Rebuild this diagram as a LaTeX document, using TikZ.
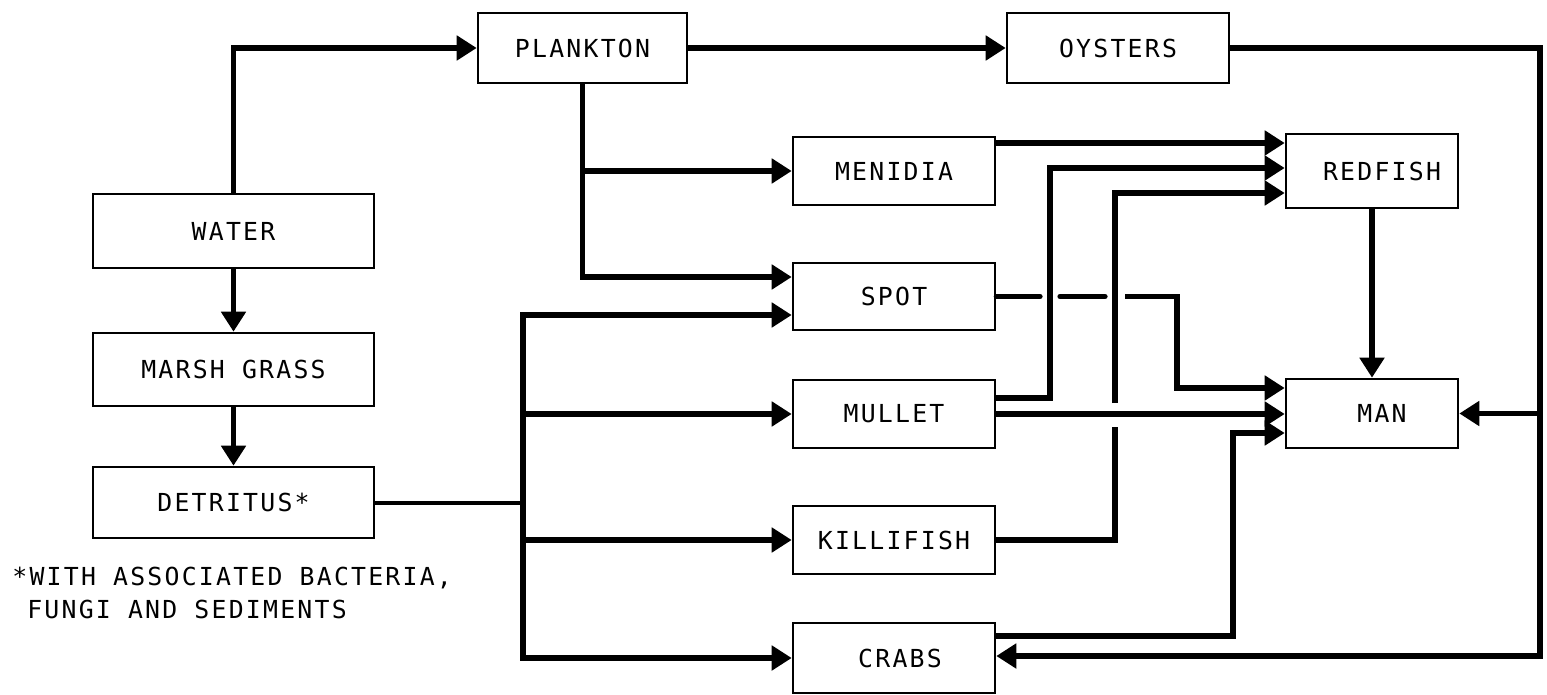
\documentclass[tikz,border=0pt]{standalone}
\usepackage{fontspec}
\newfontfamily\lbl[LetterSpace=9]{DejaVu Sans Mono}
\usetikzlibrary{arrows.meta}
\begin{document}
\begin{tikzpicture}[x=0.5pt,y=-0.5pt,
  box/.style={draw, line width=1.3pt, rectangle, inner sep=0pt,
    font=\lbl\fontsize{12.4pt}{13pt}\selectfont},
  lb/.style={inner sep=0pt, font=\lbl\fontsize{12.4pt}{13pt}\selectfont},
  conn/.style={line width=2.6pt, -{Triangle[length=10pt,width=12pt]}},
  wire/.style={line width=2.6pt},
  thinwire/.style={line width=2pt},
]
\useasboundingbox (0,0) rectangle (1547,695);

% boxes
\node[box, minimum width=140.5pt, minimum height=37pt] (water) at (233.5,231) {WATER};
\node[box, minimum width=140.5pt, minimum height=36.5pt] (marsh) at (233.5,369.5) {MARSH GRASS};
\node[box, minimum width=140.5pt, minimum height=35.5pt] (detritus) at (233.5,502.5) {DETRITUS*};
\node[box, minimum width=104.5pt, minimum height=35pt] (plankton) at (582.5,48) {PLANKTON};
\node[box, minimum width=111pt, minimum height=35pt] (oysters) at (1118,48) {OYSTERS};
\node[box, minimum width=101pt, minimum height=34pt] (menidia) at (894,171) {MENIDIA};
\node[box, minimum width=101pt, minimum height=33.5pt] (spot) at (894,296.5) {SPOT};
\node[box, minimum width=101pt, minimum height=34pt] (mullet) at (894,414) {MULLET};
\node[box, minimum width=101pt, minimum height=34pt] (killifish) at (894,540) {KILLIFISH};
\node[box, minimum width=101pt, minimum height=35pt] (crabs) at (894,658) {\hspace{6pt}CRABS};
\node[box, minimum width=86pt, minimum height=37pt] (redfish) at (1372,171) {\hspace{10pt}REDFISH};
\node[box, minimum width=86pt, minimum height=34.5pt] (man) at (1372,413.5) {\hspace{10pt}MAN};

% footnote
\node[lb, anchor=west] (note1) at (12,578) {*WITH ASSOCIATED BACTERIA,};
\node[lb, anchor=west] (note2) at (12,609) {\hphantom{*}FUNGI AND SEDIMENTS};

% left column
\draw[conn] (water.north) |- (plankton.west);
\draw[conn] (water.south) -- (marsh.north);
\draw[conn] (marsh.south) -- (detritus.north);
\draw[conn] (plankton.east) -- (oysters.west);

% plankton branch
\draw[conn] (plankton.south) |- (spot.west |- 0,277);
\draw[conn] (plankton.south |- menidia.west) -- (menidia.west);

% detritus branch
\coordinate (dj) at (523,502.5);
\draw[thinwire] (detritus.east) -- (dj);
\draw[conn] (dj) |- (spot.west |- 0,315);
\draw[conn] (dj) |- (crabs.west);
\draw[conn] (dj |- mullet.west) -- (mullet.west);
\draw[conn] (dj |- killifish.west) -- (killifish.west);

% to redfish
\draw[conn] (menidia.east |- 0,143) -- (redfish.west |- 0,143);
\coordinate (mv) at (1050,168);
\draw[conn] (mullet.east |- 0,398) -| (mv) -- (redfish.west |- mv);
\coordinate (kv) at (1115,193);
\draw[wire] (killifish.east) -| (1115,427);
\draw[conn] (1115,403) -- (kv) -- (redfish.west |- kv);

% to man
\draw[wire, line cap=round] (spot.east) -- (1040,296.5);
\draw[wire, line cap=round] (1060,296.5) -- (1105,296.5);
\coordinate (sv) at (1177,388);
\draw[conn] (1125,296.5) -| (sv) -- (man.west |- sv);
\draw[conn] (mullet.east) -- (man.west |- mullet.east);
\coordinate (cv) at (1233,433);
\draw[conn] (crabs.east |- 0,636) -| (cv) -- (man.west |- cv);
\draw[conn] (redfish.south) -- (man.north);

% oysters loop
\coordinate (rt) at (1540,48);
\coordinate (rb) at (1540,656);
\draw[conn] (oysters.east) -- (rt) -- (rb) -- (crabs.east |- rb);
\draw[conn] (rt |- man.east) -- (man.east);
\end{tikzpicture}
\end{document}
